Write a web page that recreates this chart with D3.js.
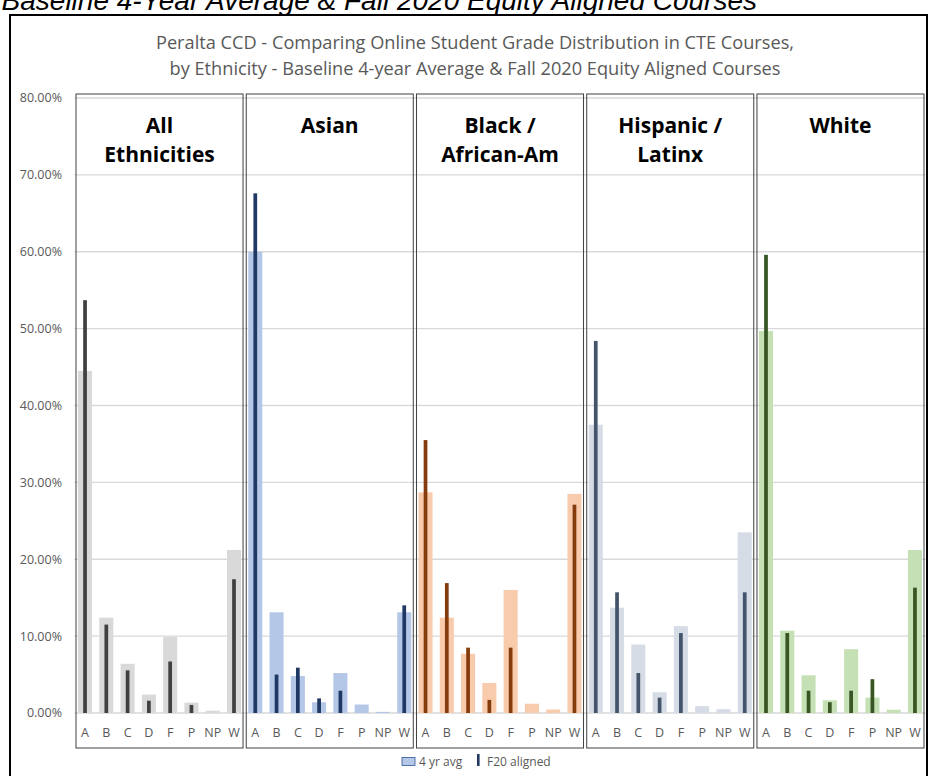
<!DOCTYPE html>
<html>
<head>
<meta charset="utf-8">
<script src="https://cdn.jsdelivr.net/npm/d3@7"></script>
<style>
  html, body { margin: 0; padding: 0; background: #fff; }
  svg { display: block; }
</style>
</head>
<body>
<svg id="chart" width="928" height="776"></svg>
<script>
// ---------- DATA ----------
const grades = ["A", "B", "C", "D", "F", "P", "NP", "W"];
const groups = ["All Ethnicities", "Asian", "Black / African-Am", "Hispanic / Latinx", "White"];
const groupTitleLines = [["All", "Ethnicities"], ["Asian"], ["Black /", "African-Am"], ["Hispanic /", "Latinx"], ["White"]];
const yTicks = [0, 10, 20, 30, 40, 50, 60, 70, 80];

// 4 yr avg (%)
const avgAll      = [44.5, 12.4, 6.4, 2.4, 9.9, 1.35, 0.3, 21.2];
const avgAsian    = [60.0, 13.1, 4.8, 1.4, 5.2, 1.1, 0.15, 13.1];
const avgBlack    = [28.7, 12.4, 7.7, 3.9, 16.0, 1.2, 0.45, 28.5];
const avgHispanic = [37.5, 13.7, 8.9, 2.7, 11.3, 0.9, 0.5, 23.5];
const avgWhite    = [49.7, 10.7, 4.9, 1.65, 8.3, 2.0, 0.43, 21.2];

// F20 aligned (%)
const f20All      = [53.7, 11.5, 5.55, 1.6, 6.7, 1.05, 0, 17.4];
const f20Asian    = [67.6, 5.0, 5.9, 1.9, 2.9, 0, 0, 14.0];
const f20Black    = [35.5, 16.9, 8.5, 1.7, 8.5, 0, 0, 27.1];
const f20Hispanic = [48.4, 15.7, 5.2, 2.0, 10.4, 0, 0, 15.7];
const f20White    = [59.6, 10.4, 2.9, 1.4, 2.9, 4.4, 0, 16.3];

const avgSeries = [avgAll, avgAsian, avgBlack, avgHispanic, avgWhite];
const f20Series = [f20All, f20Asian, f20Black, f20Hispanic, f20White];

const avgColors = ["#d9d9d9", "#b4c7e7", "#f8cbad", "#d6dce5", "#c5e0b4"];
const f20Colors = ["#404040", "#1f3864", "#843c0c", "#44546a", "#375623"];

// ---------- LAYOUT ----------
const svg = d3.select("#chart");
const plotLeft = 74.4, plotRight = 925.6;
const y = d3.scaleLinear().domain([0, 80]).range([713, 98]);
const xGroup = d3.scaleBand().domain(groups).range([plotLeft, plotRight]).padding(0);
const xGrade = d3.scaleBand().domain(grades).range([0, xGroup.bandwidth()]).paddingInner(0.34).paddingOuter(0.17);
const f20Width = xGrade.step() * 0.175;

const grayText = "#595959";
const font = "'Open Sans', 'DejaVu Sans', sans-serif";

// header (cut off at top, as in the reference)
svg.append("text")
  .attr("x", 757).attr("y", 10)
  .attr("text-anchor", "end")
  .attr("font-family", "'Liberation Sans', Arial, sans-serif")
  .attr("font-style", "italic")
  .attr("font-size", 28)
  .attr("fill", "#000")
  .text("Baseline 4-Year Average & Fall 2020 Equity Aligned Courses");

// outer frame
svg.append("path")
  .attr("d", "M10,790 L10,15 L927,15 L927,790")
  .attr("fill", "none").attr("stroke", "#000").attr("stroke-width", 2);

// title
const titleLines = ["Peralta CCD - Comparing Online Student Grade Distribution in CTE Courses,",
                    "by Ethnicity - Baseline 4-year Average & Fall 2020 Equity Aligned Courses"];
svg.append("g").selectAll("text").data(titleLines).join("text")
  .attr("x", 475).attr("y", (d, i) => 49 + i * 26)
  .attr("text-anchor", "middle")
  .attr("font-family", font).attr("font-size", 18.2)
  .attr("fill", grayText)
  .text(d => d);

// gridlines
svg.append("g").selectAll("line").data(yTicks).join("line")
  .attr("x1", plotLeft).attr("x2", plotRight)
  .attr("y1", d => y(d)).attr("y2", d => y(d))
  .attr("stroke", "#d9d9d9").attr("stroke-width", 1.3);

// y axis labels
svg.append("g").selectAll("text").data(yTicks).join("text")
  .attr("x", 62).attr("y", d => y(d))
  .attr("dy", "0.35em")
  .attr("text-anchor", "end")
  .attr("font-family", font).attr("font-size", 12.5)
  .attr("fill", grayText)
  .text(d => d3.format(".2f")(d) + "%");

// panels
groups.forEach((g, gi) => {
  const gx = xGroup(g);
  const pg = svg.append("g").attr("transform", `translate(${gx},0)`);

  // avg bars
  pg.selectAll("rect.avg").data(grades).join("rect")
    .attr("class", "avg")
    .attr("x", d => xGrade(d))
    .attr("width", xGrade.bandwidth())
    .attr("y", (d, i) => y(avgSeries[gi][i]))
    .attr("height", (d, i) => y(0) - y(avgSeries[gi][i]))
    .attr("fill", avgColors[gi]);

  // f20 bars
  pg.selectAll("rect.f20").data(grades).join("rect")
    .attr("class", "f20")
    .attr("x", d => xGrade(d) + xGrade.bandwidth() / 2 - f20Width / 2)
    .attr("width", f20Width)
    .attr("y", (d, i) => y(f20Series[gi][i]))
    .attr("height", (d, i) => y(0) - y(f20Series[gi][i]))
    .attr("fill", f20Colors[gi]);

  // category labels
  pg.selectAll("text.cat").data(grades).join("text")
    .attr("class", "cat")
    .attr("x", d => xGrade(d) + xGrade.bandwidth() / 2)
    .attr("y", 736.5)
    .attr("text-anchor", "middle")
    .attr("font-family", font).attr("font-size", 12.5)
    .attr("fill", grayText)
    .text(d => d);

  // panel box
  pg.append("rect")
    .attr("x", 1.6).attr("y", 94)
    .attr("width", xGroup.bandwidth() - 3.2)
    .attr("height", 748 - 94)
    .attr("fill", "none")
    .attr("stroke", "#404040").attr("stroke-width", 1);

  // panel title
  pg.selectAll("text.ptitle").data(groupTitleLines[gi]).join("text")
    .attr("class", "ptitle")
    .attr("x", xGroup.bandwidth() / 2)
    .attr("y", (d, i) => 133 + i * 29)
    .attr("text-anchor", "middle")
    .attr("font-family", font).attr("font-weight", "bold").attr("font-size", 21)
    .attr("fill", "#000")
    .text(d => d);
});

// legend
const lg = svg.append("g");
lg.append("rect").attr("x", 402).attr("y", 757.5).attr("width", 13).attr("height", 8)
  .attr("fill", avgColors[1]).attr("stroke", "#2f5597").attr("stroke-width", 0.8);
lg.append("text").attr("x", 419).attr("y", 766)
  .attr("font-family", font).attr("font-size", 12).attr("fill", grayText).text("4 yr avg");
lg.append("rect").attr("x", 477).attr("y", 754).attr("width", 2.6).attr("height", 12)
  .attr("fill", f20Colors[1]);
lg.append("text").attr("x", 487).attr("y", 766)
  .attr("font-family", font).attr("font-size", 12).attr("fill", grayText).text("F20 aligned");
</script>
</body>
</html>
